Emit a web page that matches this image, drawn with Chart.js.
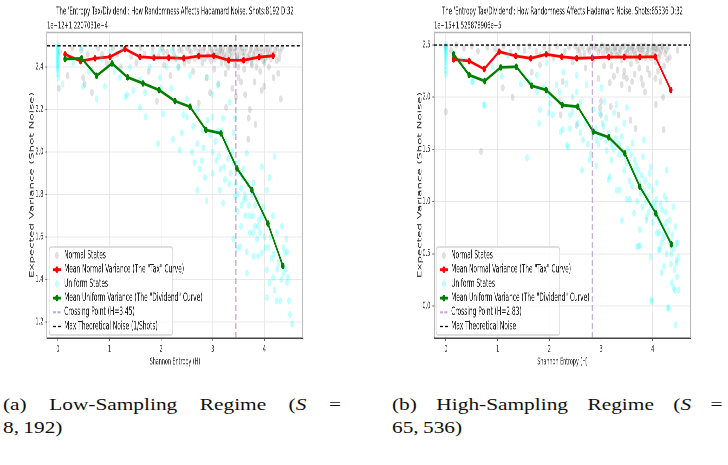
<!DOCTYPE html>
<html>
<head>
<meta charset="utf-8">
<script src="https://cdn.jsdelivr.net/npm/chart.js@4.4.1/dist/chart.umd.min.js"></script>
<style>
body { margin:0; background:#fff; width:728px; height:465px; position:relative; overflow:hidden; }
.panel { position:absolute; top:0; width:700px; height:380px; transform:scaleX(0.52); transform-origin:0 0; }
.cap { position:absolute; font-family:"Liberation Serif","DejaVu Serif",serif; font-size:17.5px; line-height:23px; color:#111; transform:scaleX(1.22); transform-origin:0 0; }
.cap .l1 { text-align:justify; text-align-last:justify; }
</style>
</head>
<body>
<div class="panel" style="left:0"><canvas id="chartLow" width="700" height="380"></canvas></div>
<div class="panel" style="left:364px"><canvas id="chartHigh" width="700" height="380"></canvas></div>
<div class="cap" style="left:3px;top:393px;width:277px"><div class="l1">(a) Low-Sampling Regime (<i>S</i> =</div><div>8,&#8201;192)</div></div>
<div class="cap" style="left:392px;top:393px;width:271px"><div class="l1">(b) High-Sampling Regime (<i>S</i> =</div><div>65,&#8201;536)</div></div>
<script>
const xTicks = [0, 1, 2, 3, 4];

// ---- panel (a): Shots 8192 ----
const lowYTicks = [1.2, 1.4, 1.6, 1.8, 2.0, 2.2, 2.4];
const lowTaxH   = [0.14, 0.44, 0.72, 1.01, 1.30, 1.59, 1.86, 2.15, 2.44, 2.73, 3.02, 3.31, 3.60, 3.90, 4.17];
const lowTaxVar = [2.460, 2.428, 2.441, 2.448, 2.485, 2.448, 2.444, 2.444, 2.441, 2.452, 2.453, 2.432, 2.432, 2.447, 2.453];
const lowDivH   = [0.14, 0.46, 0.75, 1.05, 1.35, 1.65, 1.96, 2.27, 2.56, 2.87, 3.16, 3.47, 3.76, 4.07, 4.36];
const lowDivVar = [2.438, 2.441, 2.359, 2.417, 2.352, 2.323, 2.292, 2.240, 2.213, 2.104, 2.088, 1.923, 1.821, 1.664, 1.464];
const lowCrossing = 3.45;
const lowMaxNoise = 2.5;
const lowNormal = [
  [0.02,2.30],[0.04,2.47],[0.19,2.36],[0.28,2.49],[0.45,2.48],[0.49,2.35],[0.52,2.32],[0.58,2.46],[0.66,2.28],[0.78,2.49],
  [0.86,2.46],[0.95,2.42],[1.07,2.49],[1.15,2.46],[1.22,2.40],[1.35,2.49],[1.42,2.45],[1.52,2.42],[1.60,2.49],[1.68,2.46],
  [1.76,2.38],[1.84,2.49],[1.92,2.24],[1.95,2.45],[2.02,2.49],[2.06,2.41],[2.12,2.47],[2.18,2.36],[2.24,2.49],[2.28,2.44],
  [2.34,2.40],[2.40,2.48],[2.44,2.45],[2.50,2.49],[2.54,2.43],[2.58,2.47],[2.62,2.38],[2.66,2.49],[2.70,2.45],[2.73,2.23],
  [2.76,2.48],[2.80,2.42],[2.84,2.49],[2.88,2.35],[2.90,2.46],[2.94,2.49],[2.97,2.43],[3.00,2.47],[3.03,2.39],[3.06,2.49],
  [3.09,2.45],[3.11,2.32],[3.14,2.48],[3.17,2.42],[3.20,2.49],[3.22,2.46],[3.25,2.37],[3.26,2.21],[3.29,2.49],[3.32,2.44],
  [3.35,2.47],[3.38,2.30],[3.40,2.49],[3.43,2.41],[3.46,2.48],[3.48,2.45],[3.50,2.35],[3.53,2.49],[3.56,2.43],[3.58,2.47],
  [3.61,2.39],[3.63,2.27],[3.65,2.49],[3.68,2.45],[3.69,2.06],[3.70,2.16],[3.72,2.20],[3.73,2.48],[3.76,2.41],[3.79,2.46],
  [3.81,2.33],[3.83,2.13],[3.84,2.49],[3.87,2.44],[3.90,2.47],[3.92,2.38],[3.95,2.49],[3.98,2.43],[4.00,2.31],[4.03,2.48],
  [4.06,2.45],[4.09,2.40],[4.12,2.49],[4.15,2.46],[4.18,2.35],[4.21,2.48],[4.24,2.43],[4.27,2.37],[4.30,2.47],[4.32,2.25],
  [4.34,2.49],[2.95,2.28],[3.45,2.26],[3.95,2.29],[3.55,2.33],[3.85,2.40],[3.30,2.40],[2.85,2.44],[3.15,2.48],[3.60,2.45],
  [3.35,2.49],[3.75,2.49],[4.10,2.46],
  [2.05,2.47],[2.15,2.44],[2.25,2.46],[2.35,2.48],[2.45,2.42],[2.55,2.48],[2.65,2.44],[2.72,2.47],[2.78,2.45],[2.82,2.48],
  [2.92,2.45],[2.98,2.48],[3.04,2.44],[3.08,2.47],[3.13,2.45],[3.18,2.47],[3.23,2.44],[3.28,2.46],[3.33,2.48],[3.37,2.45],
  [3.42,2.47],[3.47,2.44],[3.52,2.46],[3.57,2.49],[3.62,2.47],[3.67,2.43],[3.71,2.46],[3.77,2.44],[3.82,2.47],[3.88,2.49],
  [3.93,2.45],[3.97,2.47],[4.02,2.44],[4.07,2.48],[4.13,2.44],[4.19,2.46],[4.25,2.49],[4.29,2.44],[3.25,2.42],[3.75,2.42],
  [3.50,2.40],[4.00,2.42]
];
const lowUniform = [
  [0,2.50],[0,2.49],[0,2.48],[0,2.47],[0,2.46],[0,2.45],[0,2.44],[0,2.43],[0,2.42],[0,2.41],[0,2.40],[0,2.39],[0,2.37],[0.01,2.35],[0.09,2.32],
  [0.46,2.49],[0.49,2.31],[0.75,2.25],[0.91,2.31],[1.02,2.47],[1.24,2.49],[1.31,2.26],[1.34,2.27],[1.46,2.29],[1.59,2.34],
  [1.59,2.21],[1.69,2.28],[1.70,2.165],[1.78,2.40],[1.84,2.46],[1.94,2.04],[1.98,2.35],[1.98,2.48],[2.04,2.18],[2.11,2.40],
  [2.21,2.48],[2.23,2.06],[2.30,2.44],[2.33,2.40],[2.36,2.01],[2.40,2.09],[2.43,2.175],[2.50,2.165],[2.56,2.36],[2.62,2.12],
  [2.70,2.04],[2.70,1.82],[2.79,1.96],[2.82,2.02],[2.85,1.88],[2.88,1.77],[2.89,2.35],[2.99,2.27],[3.00,2.165],[3.07,1.96],
  [3.10,2.315],[3.14,1.82],[3.20,2.16],[3.24,1.87],[3.27,2.02],[3.33,2.235],[3.40,2.09],[3.40,1.59],[3.43,1.79],[3.43,2.16],
  [3.47,1.545],[3.53,1.90],[3.53,1.555],[3.60,1.775],[3.63,1.70],[3.66,1.995],[3.66,1.53],[3.66,1.43],[3.72,1.62],[3.79,1.855],
  [3.79,1.51],[3.82,1.65],[3.86,1.59],[3.88,1.51],[3.95,1.93],[3.95,1.525],[3.98,1.74],[4.05,1.82],[4.05,1.445],[4.05,1.315],
  [4.10,1.88],[4.10,1.385],[4.17,1.70],[4.17,1.41],[4.20,1.98],[4.20,1.35],[4.24,1.62],[4.24,1.30],[4.31,1.30],[4.34,1.65],
  [4.37,1.55],[4.37,1.43],[4.40,1.525],[4.43,1.59],[4.44,1.385],[4.44,1.53],[4.46,1.41],[4.50,1.235],[4.54,1.19],
  [2.95,2.08],[3.05,2.05],[3.12,1.98],[3.18,2.10],[3.22,1.93],[3.30,1.97],[3.35,1.90],[3.38,2.00],[3.45,1.85],[3.50,1.95],
  [3.55,1.83],[3.58,1.88],[3.62,1.80],[3.68,1.85],[3.70,1.75],[3.75,1.80],[3.78,1.70],[3.85,1.78],[3.90,1.68],[3.92,1.62],
  [4.00,1.60],[4.08,1.55],[4.14,1.50],[4.28,1.48],[3.20,1.76],[3.00,1.90],[2.60,2.00],[2.75,1.92],[3.48,1.72],[3.55,1.65],
  [2.50,2.25],[2.70,2.20],[2.90,2.15],[3.10,2.10],[2.20,2.30],[2.00,2.30],[1.20,2.35],[1.40,2.40],[0.30,2.42],[0.60,2.38],
  [0.85,2.44],[1.10,2.38],
  [3.15,1.92],[3.25,2.05],[3.32,1.85],[3.40,1.95],[3.48,1.80],[3.56,1.75],[3.60,1.92],[3.65,1.78],[3.72,1.70],[3.78,1.62],
  [3.82,1.75],[3.88,1.65],[3.95,1.70],[4.02,1.55],[4.12,1.60],[4.18,1.52],[4.25,1.45],[4.33,1.40],[4.42,1.45],[4.48,1.30],
  [3.00,2.00],[2.80,2.10],[2.65,1.95]
];

// ---- panel (b): Shots 65536 ----
const highYTicks = [0.0, 0.5, 1.0, 1.5, 2.0, 2.5];
const highTaxH   = [0.15, 0.45, 0.74, 1.03, 1.35, 1.64, 1.94, 2.24, 2.53, 2.83, 3.15, 3.45, 3.75, 4.05, 4.35];
const highTaxVar = [2.363, 2.347, 2.270, 2.436, 2.395, 2.373, 2.411, 2.388, 2.373, 2.378, 2.385, 2.385, 2.385, 2.388, 2.069];
const highDivH   = [0.15, 0.45, 0.75, 1.06, 1.36, 1.66, 1.94, 2.25, 2.55, 2.85, 3.15, 3.46, 3.75, 4.06, 4.36];
const highDivVar = [2.411, 2.213, 2.155, 2.286, 2.292, 2.110, 2.069, 1.925, 1.909, 1.670, 1.616, 1.463, 1.143, 0.888, 0.591];
const highCrossing = 2.83;
const highMaxNoise = 2.5;
const highNormal = [
  [0,1.86],[0,2.48],[0.10,2.45],[0.20,2.50],[0.35,2.47],[0.50,2.49],[0.62,2.44],[0.68,1.48],[0.80,2.48],[0.95,2.46],
  [1.10,2.09],[1.12,2.49],[1.25,2.43],[1.29,2.00],[1.40,2.48],[1.52,2.45],[1.62,2.49],[1.66,2.24],[1.75,2.44],[1.82,2.31],
  [1.82,2.40],[1.90,2.48],[2.00,2.46],[2.08,2.38],[2.15,2.49],[2.20,1.96],[2.22,1.83],[2.26,2.15],[2.30,2.44],[2.38,2.48],
  [2.45,2.34],[2.50,2.49],[2.53,1.73],[2.55,2.45],[2.60,2.40],[2.65,2.48],[2.70,2.28],[2.75,2.46],[2.80,2.49],[2.85,2.36],
  [2.90,2.47],[2.95,2.43],[2.98,1.90],[3.00,1.96],[3.00,1.83],[3.02,2.49],[3.06,2.30],[3.10,2.45],[3.14,2.48],[3.17,2.14],
  [3.19,1.91],[3.20,2.40],[3.24,2.49],[3.28,2.44],[3.32,2.26],[3.34,1.83],[3.36,2.47],[3.40,2.36],[3.44,2.20],[3.45,2.49],
  [3.50,2.18],[3.50,2.43],[3.54,2.47],[3.57,1.78],[3.58,2.32],[3.62,2.49],[3.66,2.41],[3.67,1.70],[3.70,2.46],[3.74,2.28],
  [3.78,2.49],[3.81,2.12],[3.82,2.44],[3.86,2.38],[3.90,2.48],[3.94,2.22],[3.98,2.45],[4.02,2.49],[4.06,1.93],[4.06,2.34],
  [4.10,2.47],[4.14,2.42],[4.18,2.49],[4.20,2.00],[4.21,1.69],[4.22,2.30],[4.26,2.45],[4.30,2.48],[4.33,2.38],[4.48,2.45],
  [3.30,2.48],[3.60,2.45],[3.90,2.43],[4.00,2.40],[3.70,2.35],[3.20,2.30],[2.95,2.18],[3.40,2.12],[3.85,2.05],[4.15,2.15],
  [3.55,2.08],[3.75,2.46],[3.35,2.42],[4.05,2.47],
  [2.58,2.46],[2.68,2.42],[2.78,2.44],[2.88,2.49],[2.98,2.46],[3.04,2.42],[3.08,2.48],[3.13,2.44],[3.18,2.46],[3.22,2.43],
  [3.27,2.47],[3.31,2.40],[3.38,2.45],[3.42,2.48],[3.47,2.42],[3.52,2.46],[3.56,2.40],[3.60,2.48],[3.64,2.44],[3.68,2.38],
  [3.72,2.48],[3.76,2.42],[3.80,2.46],[3.84,2.49],[3.88,2.41],[3.92,2.46],[3.96,2.38],[4.00,2.48],[4.04,2.43],[4.08,2.46],
  [4.12,2.38],[4.16,2.45],[4.20,2.48],[4.24,2.42],[4.28,2.36],[3.45,2.25],[3.65,2.22],[3.90,2.27],[4.10,2.25],[3.25,2.20],
  [3.60,2.15],[4.05,2.18],[3.78,2.18]
];
const highUniform = [
  [0,2.50],[0,2.48],[0,2.46],[0,2.44],[0,2.42],[0,2.40],[0,2.37],[0,2.34],[0,2.30],[0,2.26],[0,2.22],
  [0.15,2.42],[0.30,2.35],[0.50,2.15],[0.52,2.15],[0.73,1.93],[0.75,1.92],[0.90,2.30],[1.08,2.20],[1.20,2.40],
  [1.45,2.13],[1.57,1.42],[1.62,2.15],[1.76,2.05],[1.76,2.21],[1.80,1.75],[1.82,1.88],[1.95,2.33],[1.99,1.85],[2.01,2.02],
  [2.01,1.94],[2.07,1.83],[2.14,2.12],[2.22,1.67],[2.26,1.69],[2.27,2.24],[2.33,2.13],[2.34,1.54],[2.36,1.52],[2.40,1.83],
  [2.45,1.86],[2.53,2.21],[2.53,2.05],[2.60,1.66],[2.63,1.30],[2.65,1.59],[2.72,2.12],[2.78,1.40],[2.80,1.46],[2.91,1.59],
  [2.91,1.34],[2.98,1.85],[3.01,2.09],[3.03,1.75],[3.05,1.72],[3.07,1.96],[3.11,1.49],[3.15,1.21],[3.17,1.24],[3.25,1.50],
  [3.30,1.93],[3.30,1.69],[3.30,1.11],[3.36,1.11],[3.40,1.62],[3.40,0.82],[3.50,1.90],[3.50,1.37],[3.50,1.02],[3.56,1.02],
  [3.57,1.33],[3.61,1.56],[3.64,0.89],[3.69,1.24],[3.69,0.57],[3.73,0.57],[3.75,0.73],[3.75,0.58],[3.77,1.08],[3.81,1.43],
  [3.83,1.59],[3.88,0.82],[3.88,0.85],[3.94,1.27],[3.96,1.33],[3.96,0.47],[3.98,0.04],[3.98,0.06],[4.00,1.11],[4.02,0.99],
  [4.08,1.18],[4.08,0.70],[4.12,0.70],[4.12,0.54],[4.14,0.54],[4.17,0.32],[4.17,0.60],[4.21,0.76],[4.23,1.05],[4.27,1.02],
  [4.27,1.30],[4.27,0.50],[4.29,-0.02],[4.31,-0.02],[4.33,0.82],[4.35,0.57],[4.37,0.22],[4.41,0.17],[4.43,0.15],[4.44,-0.18],
  [4.44,0.76],[4.46,0.60],[4.46,0.41],[4.46,0.44],[4.48,0.60],[4.50,0.15],[4.50,0.46],
  [2.70,1.75],[2.85,1.65],[2.95,1.55],[3.10,1.80],[3.15,1.65],[3.20,1.40],[3.25,1.85],[3.35,1.45],[3.45,1.30],[3.45,1.75],
  [3.55,1.20],[3.60,1.15],[3.65,1.40],[3.70,1.00],[3.72,1.30],[3.80,0.95],[3.85,1.20],[3.90,1.05],[3.92,0.90],[4.00,0.80],
  [4.05,0.95],[4.10,0.85],[4.15,0.98],[4.20,0.65],[4.25,0.90],[4.30,0.72],[4.38,0.68],[4.40,0.95],[4.35,0.40],[4.22,0.38],
  [2.45,2.00],[2.20,2.05],[1.90,2.10],[2.60,1.95],[2.85,1.88],
  [2.90,1.70],[3.00,1.62],[3.10,1.58],[3.20,1.55],[3.28,1.60],[3.35,1.55],[3.42,1.48],[3.48,1.42],[3.52,1.50],[3.58,1.45],
  [3.63,1.30],[3.68,1.35],[3.74,1.18],[3.78,1.25],[3.84,1.10],[3.87,1.00],[3.93,1.15],[3.97,0.95],[4.03,0.88],[4.07,1.02],
  [4.13,0.80],[4.18,0.92],[4.22,0.70],[4.26,0.80],[4.32,0.62],[4.36,0.50],[4.40,0.55],[4.42,0.35],[4.47,0.28],[2.75,1.55],
  [2.55,1.75],[2.40,1.70]
];

Chart.defaults.font.family = '"DejaVu Sans", sans-serif';
Chart.defaults.color = '#333';

// title, offset text, top/right spines and the in-axes legend
const panelDecor = {
    id: 'panelDecor',
    afterDraw(chart, args, opts) {
        const ctx = chart.ctx;
        const a = chart.chartArea;
        ctx.save();
        ctx.strokeStyle = '#b8b8b8';
        ctx.lineWidth = 1.5;
        ctx.beginPath();
        ctx.moveTo(a.left, a.top + 0.5);
        ctx.lineTo(a.right - 0.75, a.top + 0.5);
        ctx.lineTo(a.right - 0.75, a.bottom);
        ctx.stroke();

        ctx.fillStyle = '#222';
        ctx.font = '10.3px "DejaVu Sans"';
        ctx.textBaseline = 'middle';
        ctx.textAlign = 'center';
        ctx.fillText(opts.title, (a.left + a.right) / 2, 12);
        ctx.font = '10px "DejaVu Sans"';
        ctx.textAlign = 'left';
        ctx.fillText(opts.offsetText, a.left, 26);

        // legend box
        const x0 = a.left + 4, w = 238, h = 88;
        const y0 = a.bottom - 3 - h;
        ctx.fillStyle = 'rgba(255,255,255,0.85)';
        ctx.strokeStyle = '#d4d4d4';
        ctx.lineWidth = 1.5;
        ctx.beginPath();
        ctx.roundRect(x0, y0, w, h, 4);
        ctx.fill();
        ctx.stroke();

        ctx.font = '11.3px "DejaVu Sans"';
        chart.data.datasets.forEach((ds, i) => {
            const cy = y0 + 8.5 + i * 14.2;
            const hx = x0 + 7, hx2 = x0 + 23;
            if (!ds.showLine) {
                ctx.fillStyle = ds.backgroundColor;
                ctx.beginPath();
                ctx.arc((hx + hx2) / 2, cy, 3.6, 0, Math.PI * 2);
                ctx.fill();
            } else {
                ctx.strokeStyle = ds.borderColor;
                ctx.lineWidth = ds.borderWidth;
                ctx.setLineDash(ds.borderDash || []);
                ctx.beginPath();
                ctx.moveTo(hx, cy);
                ctx.lineTo(hx2, cy);
                ctx.stroke();
                ctx.setLineDash([]);
                if (ds.pointRadius > 0) {
                    ctx.fillStyle = ds.borderColor;
                    ctx.beginPath();
                    ctx.arc((hx + hx2) / 2, cy, ds.pointRadius, 0, Math.PI * 2);
                    ctx.fill();
                }
            }
            ctx.fillStyle = '#222';
            ctx.fillText(ds.label, x0 + 29, cy);
        });
        ctx.restore();
    }
};

function toPoints(pairs) {
    return pairs.map(p => ({x: p[0], y: p[1]}));
}

function zipPoints(xs, ys) {
    return xs.map((x, i) => ({x: x, y: ys[i]}));
}

function buildChart(canvasId, cfg) {
    const ctx = document.getElementById(canvasId).getContext('2d');
    new Chart(ctx, {
        type: 'scatter',
        data: {
            datasets: [
                {
                    label: 'Normal States',
                    data: toPoints(cfg.normal),
                    backgroundColor: 'rgba(128,128,128,0.24)',
                    borderWidth: 0,
                    pointRadius: 3.6,
                    showLine: false,
                    order: 6
                },
                {
                    label: 'Mean Normal Variance (The "Tax" Curve)',
                    data: zipPoints(cfg.taxH, cfg.taxVar),
                    showLine: true,
                    borderColor: '#ff0000',
                    backgroundColor: '#ff0000',
                    borderWidth: 2.8,
                    pointRadius: 3.3,
                    pointBorderWidth: 0,
                    order: 5
                },
                {
                    label: 'Uniform States',
                    data: toPoints(cfg.uniform),
                    backgroundColor: 'rgba(0,255,255,0.24)',
                    borderWidth: 0,
                    pointRadius: 3.6,
                    showLine: false,
                    order: 4
                },
                {
                    label: 'Mean Uniform Variance (The "Dividend" Curve)',
                    data: zipPoints(cfg.divH, cfg.divVar),
                    showLine: true,
                    borderColor: '#008000',
                    backgroundColor: '#008000',
                    borderWidth: 2.8,
                    pointRadius: 3.3,
                    pointBorderWidth: 0,
                    order: 3
                },
                {
                    label: 'Crossing Point (H=' + cfg.crossing.toFixed(2) + ')',
                    data: [{x: cfg.crossing, y: cfg.yMin}, {x: cfg.crossing, y: cfg.yMax}],
                    showLine: true,
                    borderColor: 'rgba(148,103,189,0.55)',
                    borderWidth: 2.2,
                    borderDash: [6, 3],
                    pointRadius: 0,
                    order: 2
                },
                {
                    label: cfg.maxLabel,
                    data: [{x: cfg.xMin, y: cfg.maxNoise}, {x: cfg.xMax, y: cfg.maxNoise}],
                    showLine: true,
                    borderColor: '#000000',
                    borderWidth: 1.3,
                    borderDash: [6, 4],
                    pointRadius: 0,
                    order: 1
                }
            ]
        },
        options: {
            responsive: false,
            animation: false,
            devicePixelRatio: 2,
            layout: {
                padding: {top: 32, left: cfg.padLeft, right: cfg.padRight, bottom: 8.4}
            },
            plugins: {
                legend: { display: false },
                tooltip: { enabled: false },
                panelDecor: { title: cfg.title, offsetText: cfg.offsetText }
            },
            scales: {
                x: {
                    type: 'linear',
                    min: cfg.xMin,
                    max: cfg.xMax,
                    afterBuildTicks: s => { s.ticks = xTicks.map(v => ({value: v})); },
                    afterFit: s => { s.height = 33.6; },
                    ticks: { font: {size: 9.5}, color: '#333', padding: 3, callback: v => String(v) },
                    grid: { color: '#e8e8e8', lineWidth: 1.5, tickLength: 3, tickColor: '#666' },
                    border: { color: '#444', width: 1.5 },
                    title: { display: true, text: 'Shannon Entropy (H)', font: {size: 9.3}, color: '#333' }
                },
                y: {
                    type: 'linear',
                    min: cfg.yMin,
                    max: cfg.yMax,
                    afterBuildTicks: s => { s.ticks = cfg.yTicks.map(v => ({value: v})); },
                    afterFit: s => { s.width = cfg.yWidth; },
                    ticks: { font: {size: 9.5}, color: '#333', padding: 4, callback: v => v.toFixed(1) },
                    grid: { color: '#e8e8e8', tickLength: 3, tickColor: '#666' },
                    border: { color: '#444', width: 1.5 },
                    title: { display: true, text: 'Expected Variance (Shot Noise)', font: {size: 11.8}, color: '#333' }
                }
            }
        },
        plugins: [panelDecor]
    });
}

buildChart('chartLow', {
    title: "The 'Entropy Tax/Dividend': How Randomness Affects Hadamard Noise. Shots:8192 D:32",
    offsetText: '1e\u221212+1.2207031e\u22124',
    maxLabel: 'Max Theoretical Noise (1/Shots)',
    normal: lowNormal, uniform: lowUniform,
    taxH: lowTaxH, taxVar: lowTaxVar, divH: lowDivH, divVar: lowDivVar,
    crossing: lowCrossing, maxNoise: lowMaxNoise, yTicks: lowYTicks,
    xMin: -0.21, xMax: 4.75, yMin: 1.125, yMax: 2.565,
    padLeft: 50.1, padRight: 117.3, yWidth: 40.3
});

buildChart('chartHigh', {
    title: "The 'Entropy Tax/Dividend': How Randomness Affects Hadamard Noise. Shots:65536 D:32",
    offsetText: '1e\u221215+1.525878906e\u22125',
    maxLabel: 'Max Theoretical Noise',
    normal: highNormal, uniform: highUniform,
    taxH: highTaxH, taxVar: highTaxVar, divH: highDivH, divVar: highDivVar,
    crossing: highCrossing, maxNoise: highMaxNoise, yTicks: highYTicks,
    xMin: -0.23, xMax: 4.74, yMin: -0.307, yMax: 2.625,
    padLeft: 96.2, padRight: 71.2, yWidth: 38.4
});
</script>
</body>
</html>
